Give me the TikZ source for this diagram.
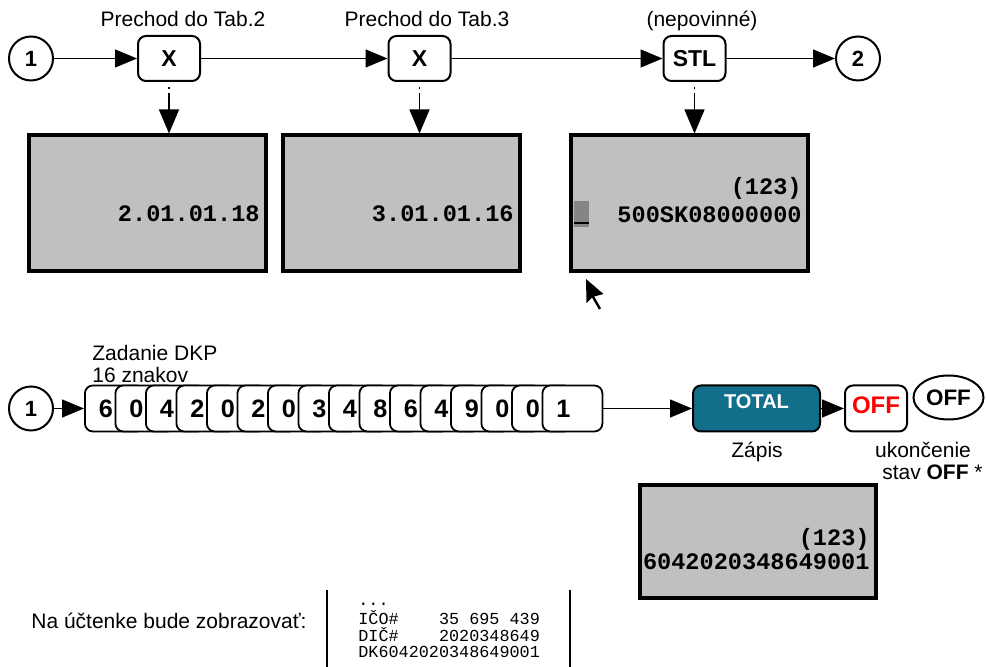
\documentclass[tikz,border=0pt]{standalone}
\usepackage{fontspec}
\setmainfont{Liberation Sans}
\setmonofont{Liberation Mono}
\usetikzlibrary{positioning,shapes.geometric,arrows.meta}

\definecolor{lcdgray}{HTML}{C0C0C0}
\definecolor{cursgray}{HTML}{858585}
\definecolor{totalblue}{RGB}{17,111,139}

\tikzset{
  lbl/.style={font=\fontsize{10.5}{12}\selectfont, inner sep=0pt},
  key/.style={draw, fill=white, rounded corners=4pt, line width=1pt, minimum width=31pt, minimum height=22.5pt, inner sep=0pt, font=\bfseries\fontsize{11.5}{13}\selectfont},
  digitkey/.style={draw, fill=white, rounded corners=4pt, line width=0.9pt, anchor=west, text width=16pt, inner xsep=7pt, inner ysep=0pt, minimum height=23pt, align=left, font=\bfseries\fontsize{12.6}{14}\selectfont},
  numcirc/.style={draw, circle, line width=1pt, minimum size=22pt, inner sep=0pt, font=\bfseries\fontsize{11}{13}\selectfont},
  screen/.style={draw, fill=lcdgray, line width=2pt, minimum width=118.5pt, minimum height=68pt},
  lcd/.style={font=\ttfamily\bfseries\fontsize{11.8}{14}\selectfont, inner sep=0pt, anchor=base east},
  rcpt/.style={font=\ttfamily\fontsize{8.4}{8}\selectfont, inner sep=0pt, anchor=base west},
  conn/.style={line width=0.65pt, -{Triangle[length=11pt,width=9pt]}},
  drop/.style={line width=0.65pt, dash pattern=on 0pt off 2.5pt on 1pt off 2pt on 40pt, -{Triangle[length=12pt,width=10pt]}},
}

\begin{document}
\begin{tikzpicture}[x=0.5pt,y=-0.5pt]
  \useasboundingbox (0,0) rectangle (986,667);

  % top row: 1 -> X -> X -> STL -> 2
  \node[numcirc] (in1) at (31,58.5) {1};
  \node[key] (x1) at (169,58.5) {X};
  \node[key] (x2) at (419.5,58.5) {X};
  \node[key] (stl) at (694.5,58.5) {STL};
  \node[numcirc] (out2) at (858,58.5) {2};

  \node[lbl, anchor=base] (lblx1) at (183,26.5) {Prechod do Tab.2};
  \node[lbl, anchor=base] (lblx2) at (427,26.5) {Prechod do Tab.3};
  \node[lbl, anchor=base] (lblstl) at (702,26.5) {(nepovinné)};

  \draw[conn] (in1) -- (x1);
  \draw[conn] (x1) -- (x2);
  \draw[conn] (x2) -- (stl);
  \draw[conn] (stl) -- (out2);

  % displays
  \node[screen] (scr1) at (147.5,203.5) {};
  \node[screen] (scr2) at (401.5,203.5) {};
  \node[screen] (scr3) at (689.5,203.5) {};

  \foreach \k/\s in {x1/scr1, x2/scr2, stl/scr3}
    \draw[drop] (\k.south) -- (\k.south |- \s.north);

  \node[lcd] (t1) at (260,221.5) {2.01.01.18};
  \node[lcd] (t2) at (514,221.5) {3.01.01.16};
  \node[lcd] (t3a) at (802,194.5) {(123)};
  \node[lcd] (t3b) at (802,222.5) {500SK08000000};

  % cursor in display and mouse pointer
  \fill[cursgray] (574,201) rectangle (589,227);
  \draw[line width=0.6pt] (574,223) -- (589,223);
  \fill (586,279) -- (586.5,303) -- (592.5,297) -- (603.5,294) -- cycle;
  \draw[line width=1.2pt] (592,295) -- (600,309);

  % bottom row: DKP entry
  \node[lbl, anchor=base west] (dkp1) at (92,360.5) {Zadanie DKP};
  \node[lbl, anchor=base west] (dkp2) at (92,382.5) {16 znakov};

  \node[numcirc] (in1b) at (31,408.5) {1};
  \foreach \d [count=\i from 0] in {6,0,4,2,0,2,0,3,4,8,6,4,9,0,0,1}
    \node[digitkey] (d\i) at (84+\i*30.5,408.5) {\d};

  \node[key, fill=totalblue, text=white, minimum width=63.5pt, minimum height=23pt, text depth=6.5pt, font=\bfseries\fontsize{10}{12}\selectfont] (total) at (756.5,408.5) {TOTAL};
  \node[key, minimum height=23pt, text depth=3.5pt, font=\bfseries\fontsize{12}{14}\selectfont, text=red] (off) at (876,408.5) {OFF};
  \node[ellipse, draw, line width=1pt, minimum width=35pt, minimum height=22pt, inner sep=0pt, font=\bfseries\fontsize{11.2}{13}\selectfont] (offsw) at (948.5,397.5) {OFF};

  \draw[conn] (in1b) -- (d0);
  \draw[conn] (d15) -- (total);
  \draw[conn] (total) -- (off);

  \node[lbl, anchor=base] (zapis) at (757,457.5) {Zápis};
  \node[lbl, anchor=base] (ukon) at (923,457.5) {ukončenie};
  \node[lbl, anchor=base east] (stav) at (983,479.5) {stav \textbf{OFF} *};

  \node[screen, minimum width=118pt, minimum height=56.5pt] (scr4) at (758,541.5) {};
  \node[lcd] (t4a) at (870,545.5) {(123)};
  \node[lcd] (t4b) at (870,569.5) {6042020348649001};

  % receipt
  \node[lbl, anchor=base east] (note) at (307,628.5) {Na účtenke bude zobrazovať:};
  \draw[line width=1pt] (327,590) -- (327,667);
  \draw[line width=1pt] (570,590) -- (570,667);
  \node[rcpt] (r0) at (358,606) {...};
  \node[rcpt] (r1) at (358,625) {IČO\#\hphantom{0000}35 695 439};
  \node[rcpt] (r2) at (358,641.5) {DIČ\#\hphantom{0000}2020348649};
  \node[rcpt] (r3) at (358,658) {DK6042020348649001};
\end{tikzpicture}
\end{document}
